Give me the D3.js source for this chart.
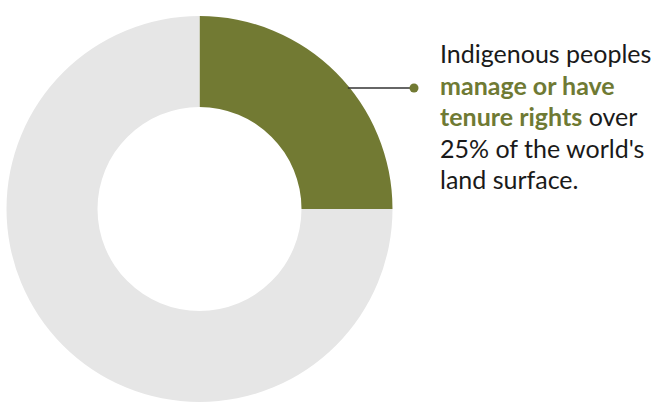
<!DOCTYPE html>
<html>
<head>
<meta charset="utf-8">
<style>
  body { margin: 0; background: #fff; }
  .note { font-family: Lato, sans-serif; font-size: 25px; fill: #1a1a1a; }
  .note .hl { font-weight: bold; fill: #6f7a34; }
</style>
</head>
<body>
<svg width="655" height="402"></svg>
<script src="https://cdn.jsdelivr.net/npm/d3@7"></script>
<script>

// share of world's land surface
var labels = ["Indigenous", "Other"];
var values = [25, 75];
var colors = ["#727a33", "#e6e6e6"];

// annotation, one array per line, each chunk [text, highlighted]
var noteLines = [
  [["Indigenous peoples", false]],
  [["manage or have", true]],
  [["tenure rights", true], [" over", false]],
  [["25% of the world's", false]],
  [["land surface.", false]]
];

var svg = d3.select("svg"),
    cx = 199.5, cy = 209,
    outerR = 193, innerR = 102;

var g = svg.append("g").attr("transform", "translate(" + cx + "," + cy + ")");

var pie = d3.pie().sort(null).value(function(d) { return d; });
var arc = d3.arc().innerRadius(innerR).outerRadius(outerR);

g.selectAll("path")
  .data(pie(values))
  .enter().append("path")
    .attr("d", arc)
    .attr("fill", function(d, i) { return colors[i]; });

// leader line from the green slice to the note
var lineY = 88 - cy;
var edgeX = Math.sqrt(outerR * outerR - lineY * lineY);
g.append("line")
  .attr("x1", edgeX - 2).attr("y1", lineY)
  .attr("x2", 414 - cx).attr("y2", lineY)
  .attr("stroke", "#333").attr("stroke-width", 1.3);
g.append("circle")
  .attr("cx", 414 - cx).attr("cy", lineY)
  .attr("r", 4.5)
  .attr("fill", colors[0]);

var note = svg.append("text").attr("class", "note");
noteLines.forEach(function(line, i) {
  var ln = note.append("tspan").attr("x", 440).attr("y", 63 + i * 31.6);
  line.forEach(function(chunk) {
    ln.append("tspan").attr("class", chunk[1] ? "hl" : null).text(chunk[0]);
  });
});

</script>
</body>
</html>
